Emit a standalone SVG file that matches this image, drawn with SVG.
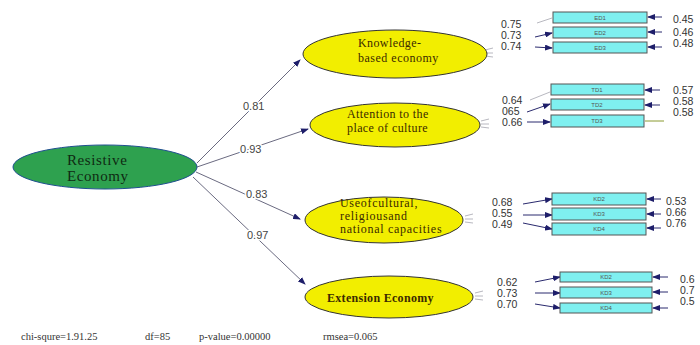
<svg xmlns="http://www.w3.org/2000/svg" width="700" height="345" viewBox="0 0 700 345">
<style>
.lat{fill:#f2ee00;stroke:#333;stroke-width:1}
.root{fill:#2ea14f;stroke:#1f4f8f;stroke-width:1}
.ltxt{font-family:"Liberation Serif",serif;font-size:12px;fill:#3a2a00}
.rtxt{font-family:"Liberation Serif",serif;font-size:15px;fill:#0f2a12}
.box{fill:#7ff0f0;stroke:#555;stroke-width:1}
.btxt{font-family:"Liberation Sans",sans-serif;font-size:6px;fill:#555;text-anchor:middle}
.val{font-family:"Liberation Sans",sans-serif;font-size:10.5px;fill:#333}
.path{stroke:#6a6a80;stroke-width:1;fill:none}
.path2{stroke:#2a2a6e;stroke-width:1;fill:none}
.lite{stroke:#b8b8c0;stroke-width:1;fill:none}
.coef{font-family:"Liberation Sans",sans-serif;font-size:11px;fill:#444;stroke:#fff;stroke-width:3px;paint-order:stroke}
.foot{font-family:"Liberation Serif",serif;font-size:10.5px;fill:#333}
</style>
<defs>
<marker id="ah" markerWidth="8" markerHeight="6" refX="7" refY="3" orient="auto" markerUnits="userSpaceOnUse">
<path d="M0,0 L8,3 L0,6 Z" fill="#1e1e6a"/>
</marker>
</defs>

<g id="connectors">
<line class="path" x1="197" y1="163" x2="300" y2="60" marker-end="url(#ah)"/>
<line class="path" x1="197" y1="167" x2="308" y2="129" marker-end="url(#ah)"/>
<line class="path" x1="196" y1="172" x2="300" y2="219" marker-end="url(#ah)"/>
<line class="path" x1="193" y1="177" x2="305" y2="284" marker-end="url(#ah)"/>
<text class="coef" x="243" y="110">0.81</text>
<text class="coef" x="240" y="153">0.93</text>
<text class="coef" x="246" y="198">0.83</text>
<text class="coef" x="247" y="239">0.97</text>

<!-- group 1 -->
<path class="lite" d="M485,50 l8,-2 M485,53 l8,0 M485,56 l8,1"/>
<line class="lite" x1="537" y1="23" x2="552" y2="18"/>
<line class="path2" x1="535" y1="37" x2="552" y2="33" marker-end="url(#ah)"/>
<line class="path2" x1="535" y1="47" x2="552" y2="48" marker-end="url(#ah)"/>
<line class="path2" x1="662" y1="17" x2="648" y2="17" marker-end="url(#ah)"/>
<line class="path2" x1="662" y1="32" x2="648" y2="32" marker-end="url(#ah)"/>
<line class="path2" x1="662" y1="47" x2="648" y2="47" marker-end="url(#ah)"/>

<!-- group 2 -->
<path class="lite" d="M481,121 l8,-2 M481,124 l8,0 M481,127 l8,1"/>
<line class="lite" x1="530" y1="100" x2="550" y2="92"/>
<line class="path2" x1="527" y1="112" x2="550" y2="104" marker-end="url(#ah)"/>
<line class="path2" x1="527" y1="122" x2="550" y2="122" marker-end="url(#ah)"/>
<line class="path2" x1="660" y1="90" x2="645" y2="90" marker-end="url(#ah)"/>
<line class="path2" x1="660" y1="105" x2="645" y2="105" marker-end="url(#ah)"/>
<line x1="645" y1="121" x2="664" y2="121" stroke="#8a9a30" stroke-width="1"/>

<!-- group 3 -->
<path class="lite" d="M465,216 l8,-2 M465,219 l8,0 M465,222 l8,1"/>
<line class="path2" x1="523" y1="204" x2="552" y2="199" marker-end="url(#ah)"/>
<line class="path2" x1="523" y1="215" x2="552" y2="215" marker-end="url(#ah)"/>
<line class="path2" x1="523" y1="223" x2="552" y2="229" marker-end="url(#ah)"/>
<line class="path2" x1="661" y1="199" x2="647" y2="199" marker-end="url(#ah)"/>
<line class="path2" x1="661" y1="214" x2="647" y2="214" marker-end="url(#ah)"/>
<line class="path2" x1="661" y1="228" x2="647" y2="228" marker-end="url(#ah)"/>

<!-- group 4 -->
<path class="lite" d="M475,293 l8,-2 M475,296 l8,0 M475,299 l8,1"/>
<line class="path2" x1="535" y1="282" x2="560" y2="277" marker-end="url(#ah)"/>
<line class="path2" x1="535" y1="293" x2="560" y2="293" marker-end="url(#ah)"/>
<line class="path2" x1="535" y1="304" x2="560" y2="308" marker-end="url(#ah)"/>
<line class="path2" x1="668" y1="277" x2="653" y2="277" marker-end="url(#ah)"/>
<line class="path2" x1="668" y1="292" x2="653" y2="292" marker-end="url(#ah)"/>
<line class="path2" x1="668" y1="308" x2="653" y2="308" marker-end="url(#ah)"/>
</g>

<g id="resistive">
<ellipse class="root" cx="105" cy="167" rx="92" ry="22"/>
<text class="rtxt" x="67" y="165" letter-spacing="0.6">Resistive</text>
<text class="rtxt" x="67" y="181" letter-spacing="0.6">Economy</text>
</g>

<g id="knowledge">
<ellipse class="lat" cx="395" cy="54" rx="92" ry="24"/>
<text class="ltxt" x="358" y="47" letter-spacing="0.4">Knowledge-</text>
<text class="ltxt" x="358" y="62" letter-spacing="0.5">based economy</text>
</g>

<g id="attention">
<ellipse class="lat" cx="395" cy="125" rx="85" ry="22"/>
<text class="ltxt" x="347" y="118" letter-spacing="0.4">Attention to the</text>
<text class="ltxt" x="347" y="132" letter-spacing="0.4">place of culture</text>
</g>

<g id="uses">
<ellipse class="lat" cx="384" cy="220" rx="79" ry="23"/>
<text class="ltxt" x="340" y="207" font-size="10" letter-spacing="0.7">Useofcultural,</text>
<text class="ltxt" x="340" y="220" font-size="10" letter-spacing="0.7">religiousand</text>
<text class="ltxt" x="340" y="233" font-size="10" letter-spacing="0.7">national capacities</text>
</g>

<g id="extension">
<ellipse class="lat" cx="389" cy="297" rx="84" ry="21"/>
<text class="ltxt" x="327" y="302" font-weight="bold" font-size="13" letter-spacing="0.3">Extension Economy</text>
</g>

<g id="ED1"><rect class="box" x="553" y="12" width="94" height="11"/><text class="btxt" x="600" y="20">ED1</text></g>
<g id="ED2"><rect class="box" x="553" y="27" width="94" height="11"/><text class="btxt" x="600" y="35">ED2</text></g>
<g id="ED3"><rect class="box" x="553" y="42" width="94" height="11"/><text class="btxt" x="600" y="50">ED3</text></g>
<g id="labels1">
<text class="val" x="501" y="28">0.75</text>
<text class="val" x="501" y="39">0.73</text>
<text class="val" x="501" y="50">0.74</text>
<text class="val" x="673" y="23">0.45</text>
<text class="val" x="673" y="36">0.46</text>
<text class="val" x="673" y="47">0.48</text>
</g>

<g id="TD1"><rect class="box" x="551" y="84" width="93" height="11"/><text class="btxt" x="597" y="92">TD1</text></g>
<g id="TD2"><rect class="box" x="551" y="99" width="93" height="11"/><text class="btxt" x="597" y="107">TD2</text></g>
<g id="TD3"><rect class="box" x="551" y="115" width="93" height="12"/><text class="btxt" x="597" y="123">TD3</text></g>
<g id="labels2">
<text class="val" x="502" y="104">0.64</text>
<text class="val" x="502" y="115">065</text>
<text class="val" x="502" y="126">0.66</text>
<text class="val" x="673" y="94">0.57</text>
<text class="val" x="673" y="105">0.58</text>
<text class="val" x="673" y="116">0.58</text>
</g>

<g id="KD2a"><rect class="box" x="552" y="193" width="94" height="12"/><text class="btxt" x="599" y="201">KD2</text></g>
<g id="KD3a"><rect class="box" x="552" y="208" width="94" height="12"/><text class="btxt" x="599" y="216">KD3</text></g>
<g id="KD4a"><rect class="box" x="552" y="223" width="94" height="12"/><text class="btxt" x="599" y="231">KD4</text></g>
<g id="labels3">
<text class="val" x="492" y="206">0.68</text>
<text class="val" x="492" y="217">0.55</text>
<text class="val" x="492" y="228">0.49</text>
<text class="val" x="666" y="205">0.53</text>
<text class="val" x="666" y="216">0.66</text>
<text class="val" x="666" y="227">0.76</text>
</g>

<g id="KD2b"><rect class="box" x="560" y="272" width="92" height="10"/><text class="btxt" x="606" y="279">KD2</text></g>
<g id="KD3b"><rect class="box" x="560" y="287" width="92" height="11"/><text class="btxt" x="606" y="295">KD3</text></g>
<g id="KD4b"><rect class="box" x="560" y="303" width="92" height="10"/><text class="btxt" x="606" y="310">KD4</text></g>
<g id="labels4">
<text class="val" x="497" y="286">0.62</text>
<text class="val" x="497" y="297">0.73</text>
<text class="val" x="497" y="308">0.70</text>
<text class="val" x="680" y="283">0.6</text>
<text class="val" x="680" y="294">0.7</text>
<text class="val" x="680" y="305">0.5</text>
</g>

<g id="footer">
<text class="foot" x="21" y="340">chi-squre=1.91.25</text>
<text class="foot" x="145" y="340">df=85</text>
<text class="foot" x="199" y="340">p-value=0.00000</text>
<text class="foot" x="323" y="340">rmsea=0.065</text>
</g>
</svg>
